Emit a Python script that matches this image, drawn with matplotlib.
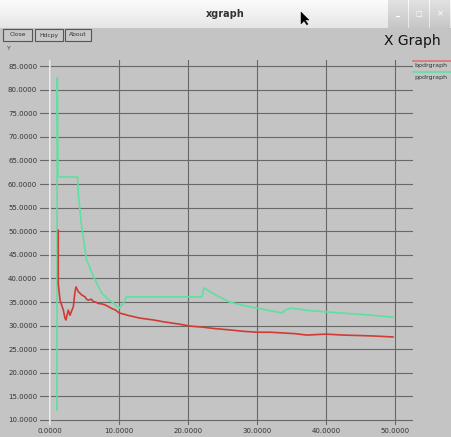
import matplotlib
matplotlib.use("Agg")
import matplotlib.pyplot as plt
from matplotlib.patches import Rectangle, Polygon
import numpy as np

W, H = 451, 437

# ---------------- data ----------------
red_x = [1.2, 1.2, 1.45, 1.93, 2.17, 2.3, 2.65, 2.9, 3.1, 3.38, 3.62, 3.77, 4.1, 4.6,
         5.07, 5.3, 5.55, 6.0, 6.28, 6.6, 7.0, 7.5, 7.97, 8.5, 9.0, 9.5, 10.0, 11.5,
         13.0, 15.0, 16.5, 18.8, 20.3, 22.0, 23.7, 26.0, 28.0, 30.0, 32.0, 34.3,
         35.5, 37.2, 40.0, 42.5, 44.9, 47.0, 49.7]
red_y = [50.2, 38.9, 35.4, 33.3, 31.6, 31.2, 33.3, 32.2, 33.0, 34.0, 37.2, 38.2, 37.2,
         36.5, 36.1, 35.6, 35.4, 35.6, 35.1, 35.0, 34.7, 34.6, 34.4, 34.0, 33.6, 33.3,
         32.7, 32.1, 31.6, 31.2, 30.8, 30.3, 29.9, 29.7, 29.4, 29.1, 28.8, 28.6, 28.6,
         28.4, 28.3, 28.0, 28.2, 28.0, 27.9, 27.8, 27.6]

green_x = [1.0, 1.05, 1.1, 1.15, 4.0, 4.1, 4.5, 5.3, 6.3, 7.5, 8.5, 9.2, 10.0, 10.5,
           11.1, 22.0, 22.3, 24.0, 26.0, 28.0, 30.0, 33.6, 34.2, 35.0, 37.5, 40.0,
           45.0, 49.7]
green_y = [12.1, 82.5, 73.0, 61.5, 61.5, 58.0, 52.0, 43.9, 40.4, 36.9, 35.5, 34.8,
           33.7, 34.5, 36.1, 36.1, 38.0, 36.5, 35.0, 34.3, 33.7, 32.7, 33.4, 33.7,
           33.2, 32.9, 32.4, 31.8]

x_ticks = [0, 10, 20, 30, 40, 50]
x_labels = ["0.0000", "10.0000", "20.0000", "30.0000", "40.0000", "50.0000"]
y_ticks = [10, 15, 20, 25, 30, 35, 40, 45, 50, 55, 60, 65, 70, 75, 80, 85]
y_labels = ["%.4f" % v for v in y_ticks]
series_names = ["bpdrgraph", "ppdrgraph"]

RED = "#d23a34"
GREEN = "#5ee0a0"
BG = "#c4c4c4"
GRID = "#686868"

fig = plt.figure(figsize=(W / 100, H / 100), dpi=100)
fig.patch.set_facecolor(BG)


def fx(px):
    return px / W


def fy(py):
    return 1 - py / H


# ---------------- window chrome ----------------
grad = np.linspace(0, 1, 50).reshape(-1, 1)
tb = fig.add_axes([0, fy(28), 1, 28 / H])
tb.imshow(grad, aspect="auto", cmap=matplotlib.colors.LinearSegmentedColormap.from_list(
    "tb", ["#fbfbfb", "#e6e6e6"]), extent=[0, 1, 0, 1])
tb.set_axis_off()
for x0 in [388, 409, 430]:
    bx = fig.add_axes([fx(x0), fy(28), 20 / W, 28 / H])
    bx.imshow(grad, aspect="auto", cmap=matplotlib.colors.LinearSegmentedColormap.from_list(
        "bb", ["#e2e2e2", "#c6c6c6"]), extent=[0, 1, 0, 1])
    bx.set_axis_off()
fig.text(fx(398), fy(13), "_", color="white", fontsize=6, ha="center", va="center", weight="bold")
fig.text(fx(419), fy(14), "\u25a1", color="white", fontsize=5, ha="center", va="center")
fig.text(fx(440), fy(14), "\u00d7", color="white", fontsize=6, ha="center", va="center")
fig.text(fx(225), fy(14), "xgraph", fontsize=7, weight="bold", color="#333333",
         ha="center", va="center")
fig.patches.append(Polygon([(fx(301), fy(12)), (fx(301), fy(24)), (fx(304), fy(21)),
                            (fx(307), fy(25)), (fx(308), fy(24)), (fx(305), fy(20)),
                            (fx(309), fy(20))], closed=True, transform=fig.transFigure,
                           facecolor="black", edgecolor="black", lw=0.3))

for (x0, x1, lab) in [(3, 32, "Close"), (35, 63, "Hdcpy"), (65, 91, "About")]:
    fig.patches.append(Rectangle((fx(x0), fy(41)), (x1 - x0) / W, 12 / H,
                                 transform=fig.transFigure, facecolor="#c8c8c8",
                                 edgecolor="#555555", lw=0.8))
    fig.text(fx((x0 + x1) / 2), fy(35), lab, fontsize=4.3, ha="center", va="center",
             color="#333333")
fig.text(fx(7), fy(48), "Y", fontsize=4.5, color="#444444", ha="left", va="center")
fig.text(fx(384), fy(41), "X Graph", fontsize=10, color="#111111", ha="left", va="center")

# ---------------- plot ----------------
L, R, T, B = 40, 413, 60, 425
ax = fig.add_axes([fx(L), fy(B), (R - L) / W, (B - T) / H])
ax.set_facecolor(BG)
ax.set_xlim(-1.45, 52.6)
ax.set_ylim(8.94, 86.3)
for s in ax.spines.values():
    s.set_visible(False)
ax.set_xticks(x_ticks)
ax.set_xticklabels(x_labels)
ax.set_yticks(y_ticks)
ax.set_yticklabels(y_labels)
ax.tick_params(length=0, labelsize=5, labelcolor="#333333", pad=2)
ax.grid(True, color=GRID, lw=0.8)
ax.axvline(0, color="#f2f2f2", lw=1.2, zorder=2)
ax.set_axisbelow(True)

ax.plot(green_x, green_y, color=GREEN, lw=1.2, zorder=3)
ax.plot(red_x, red_y, color=RED, lw=1.2, zorder=4)

fig.lines.append(matplotlib.lines.Line2D([fx(413), fx(451)], [fy(61), fy(61)],
                                         color="#e07070", lw=1.2, transform=fig.transFigure))
fig.lines.append(matplotlib.lines.Line2D([fx(413), fx(451)], [fy(72), fy(72)],
                                         color=GREEN, lw=1.2, transform=fig.transFigure))
fig.text(fx(414), fy(66), series_names[0], fontsize=4.5, color="#333333", ha="left", va="center")
fig.text(fx(414), fy(77), series_names[1], fontsize=4.5, color="#333333", ha="left", va="center")

fig.savefig("out.png", dpi=100, facecolor=BG)
